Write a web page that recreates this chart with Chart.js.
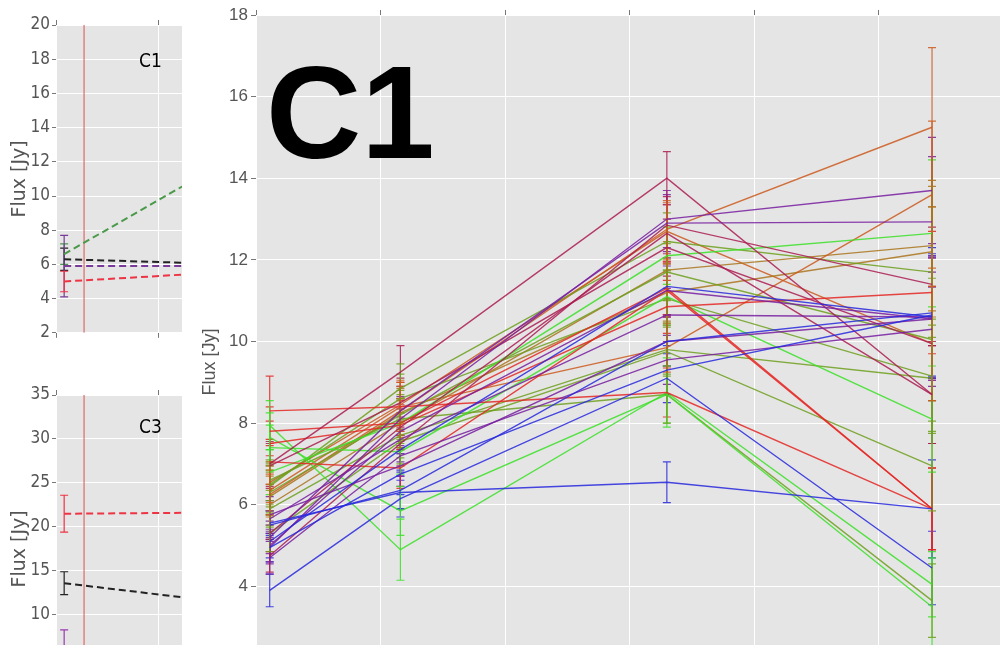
<!DOCTYPE html>
<html lang="en">
<head>
<meta charset="UTF-8" />
<title>Flux C1</title>
<script src="https://cdn.jsdelivr.net/npm/chart.js"></script>
<style>
	html, body { margin: 0; padding: 0; background: #fff; width: 1000px; height: 645px; overflow: hidden; }
	.box { position: absolute; overflow: hidden; }
</style>
</head>
<body>
<div class="box" style="left:0;top:0;width:190px;height:345px"><canvas id="smallC1" width="182" height="345"></canvas></div>
<div class="box" style="left:0;top:380px;width:190px;height:265px"><canvas id="smallC3" width="182" height="335"></canvas></div>
<div class="box" style="left:195px;top:0;width:805px;height:645px"><canvas id="main" width="808" height="722"></canvas></div>

<script>
// ---- main panel data: flux at four bands, one row per source ----
var xs = [0.11, 1.16, 3.30, 5.43];

var red = "rgba(228,40,36,0.85)";
var blue = "rgba(40,40,222,0.85)";
var green = "rgba(60,225,40,0.85)";
var purple = "rgba(120,30,160,0.85)";
var crimson = "rgba(172,28,82,0.85)";
var orange = "rgba(204,90,30,0.85)";
var olive = "rgba(110,160,30,0.85)";
var brown = "rgba(170,118,30,0.85)";

var fluxes = [
	[5.55, 6.30, 6.55, 5.90],
	[3.90, 6.15, 9.10, 4.45],
	[4.95, 6.75, 9.30, 10.65],
	[5.10, 7.35, 11.35, 10.60],
	[5.50, 6.35, 10.00, 10.70],
	[4.70, 7.20, 9.55, 10.30],
	[5.75, 6.95, 10.00, 10.55],
	[5.65, 7.60, 10.65, 10.60],
	[4.95, 8.10, 13.00, 13.70],
	[5.20, 8.30, 12.90, 12.93],
	[5.00, 7.80, 11.25, 10.55],
	[7.00, 9.25, 14.00, 8.70],
	[4.75, 7.50, 12.85, 11.40],
	[6.95, 8.50, 12.30, 9.95],
	[5.30, 7.90, 12.65, 8.70],
	[8.30, 8.40, 8.75, 5.90],
	[7.80, 8.00, 11.30, 5.90],
	[7.50, 7.95, 10.85, 11.20],
	[7.05, 6.90, 11.25, 5.90],
	[7.95, 4.90, 8.75, 4.05],
	[7.65, 5.85, 8.70, 3.50],
	[7.40, 7.30, 11.10, 8.10],
	[5.30, 7.55, 9.75, 6.95],
	[6.80, 8.00, 12.10, 12.65],
	[6.45, 8.85, 12.45, 11.70],
	[6.30, 8.20, 11.70, 10.05],
	[5.90, 7.70, 9.80, 9.10],
	[6.60, 8.10, 8.70, 3.65],
	[6.50, 8.60, 11.05, 9.15],
	[6.25, 8.30, 12.75, 15.25],
	[6.35, 8.40, 9.85, 13.60],
	[6.00, 8.00, 11.75, 12.35],
	[6.20, 8.25, 11.20, 12.20],
	[6.55, 8.45, 12.70, 9.95],
];

var fluxErrors = [
	[0.30, 0.40, 0.50, 1.20],
	[0.40, 0.45, 0.60, 0.90],
	[0.35, 0.50, 0.60, 1.50],
	[0.40, 0.50, 0.70, 1.50],
	[0.35, 0.45, 0.60, 1.60],
	[0.40, 0.50, 0.60, 1.40],
	[0.45, 0.50, 0.60, 1.50],
	[0.45, 0.55, 0.65, 1.50],
	[0.40, 0.55, 0.70, 1.30],
	[0.40, 0.60, 0.70, 1.60],
	[0.40, 0.55, 0.60, 1.50],
	[0.55, 0.65, 0.65, 1.20],
	[0.40, 0.55, 0.70, 1.40],
	[0.55, 0.60, 0.70, 1.40],
	[0.45, 0.55, 0.70, 1.20],
	[0.85, 0.60, 0.60, 1.00],
	[0.60, 0.60, 0.65, 1.00],
	[0.55, 0.60, 0.65, 1.50],
	[0.55, 0.50, 0.65, 1.00],
	[0.60, 0.75, 0.85, 0.80],
	[0.60, 0.60, 0.70, 1.20],
	[0.55, 0.55, 0.65, 1.30],
	[0.45, 0.55, 0.60, 1.10],
	[0.55, 0.60, 0.70, 1.80],
	[0.50, 0.60, 0.70, 1.60],
	[0.50, 0.60, 0.70, 1.50],
	[0.45, 0.55, 0.60, 1.30],
	[0.50, 0.60, 0.70, 0.90],
	[0.50, 0.60, 0.65, 1.40],
	[0.50, 0.60, 0.70, 1.95],
	[0.50, 0.60, 0.60, 1.80],
	[0.50, 0.60, 0.70, 1.60],
	[0.50, 0.60, 0.70, 1.60],
	[0.50, 0.60, 0.70, 1.40],
];

var lineColors = [
	blue, blue, blue, blue, blue,
	purple, purple, purple, purple, purple, purple,
	crimson, crimson, crimson, crimson,
	red, red, red, red,
	green, green, green, olive, green,
	olive, olive, olive, olive, olive,
	orange, orange, brown, brown, orange,
];

var mainTicks = [4, 6, 8, 10, 12, 14, 16, 18];

// ---- small panels: dashed fits starting at the first band ----
var smallX = [0.08, 1.235];
var redLineX = 0.275;

var c1Fits = [
	[6.6, 10.55],
	[6.3, 6.1],
	[5.9, 5.9],
	[5.0, 5.4],
];
var c1FitErrors = [0.6, 0.65, 1.8, 0.6];
var c1FitColors = ["#4a9a4a", "#222222", "#7a3a9a", "#ee3344"];

var c3Fits = [
	[21.5, 21.6],
	[13.6, 12.0],
	[4.8, 4.8],
];
var c3FitErrors = [2.1, 1.3, 3.5];
var c3FitColors = ["#ee3344", "#222222", "#9a3ab0"];

// ---- plugins ----
var panelBackground = {
	id: "panelBackground",
	beforeDraw: function (chart) {
		var a = chart.chartArea, ctx = chart.ctx;
		ctx.save();
		ctx.fillStyle = "#e5e5e5";
		ctx.fillRect(a.left, a.top, a.right - a.left, a.bottom - a.top);
		ctx.restore();
	},
};

var errorBars = {
	id: "errorBars",
	beforeDatasetsDraw: function (chart) {
		var ctx = chart.ctx, ys = chart.scales.y, a = chart.chartArea;
		ctx.save();
		ctx.beginPath();
		ctx.rect(a.left, a.top, a.right - a.left, a.bottom - a.top);
		ctx.clip();
		chart.data.datasets.forEach(function (ds, i) {
			if (!ds.errors) return;
			var meta = chart.getDatasetMeta(i);
			ctx.strokeStyle = ds.borderColor;
			ctx.lineWidth = 1.2;
			meta.data.forEach(function (pt, j) {
				var e = ds.errors[j];
				if (!e) return;
				var v = ds.data[j].y;
				var top = ys.getPixelForValue(v + e);
				var bot = ys.getPixelForValue(v - e);
				ctx.beginPath();
				ctx.moveTo(pt.x, top); ctx.lineTo(pt.x, bot);
				ctx.moveTo(pt.x - 4, top); ctx.lineTo(pt.x + 4, top);
				ctx.moveTo(pt.x - 4, bot); ctx.lineTo(pt.x + 4, bot);
				ctx.stroke();
			});
		});
		ctx.restore();
	},
};

var panelLabel = {
	id: "panelLabel",
	afterDraw: function (chart, args, opts) {
		if (!opts.text) return;
		var ctx = chart.ctx;
		ctx.save();
		ctx.fillStyle = "#000";
		ctx.font = opts.font;
		ctx.textBaseline = "alphabetic";
		ctx.fillText(opts.text, opts.x, opts.y);
		ctx.restore();
	},
};

// ---- main chart ----
var mainSets = fluxes.map(function (row, i) {
	return {
		data: row.map(function (v, j) { return { x: xs[j], y: v }; }),
		errors: fluxErrors[i],
		borderColor: lineColors[i],
		borderWidth: 1.4,
		pointRadius: 0,
		tension: 0,
	};
});

new Chart(document.getElementById("main"), {
	type: "line",
	data: { datasets: mainSets },
	plugins: [panelBackground, errorBars, panelLabel],
	options: {
		responsive: false,
		animation: false,
		layout: { padding: 0 },
		scales: {
			x: {
				type: "linear",
				position: "top",
				min: 0,
				max: 6,
				ticks: { display: false, stepSize: 1 },
				grid: { color: "#ffffff", lineWidth: 1, tickColor: "#777", tickLength: 5 },
				border: { display: false },
				afterFit: function (s) { s.height = 15; },
			},
			y: {
				min: 1,
				max: 18,
				afterBuildTicks: function (s) { s.ticks = mainTicks.map(function (v) { return { value: v }; }); },
				ticks: { color: "#555", font: { size: 17, family: "Liberation Sans" }, padding: 3 },
				grid: { color: "#ffffff", lineWidth: 1, tickColor: "#777", tickLength: 5 },
				border: { display: false },
				title: { display: true, text: "Flux [Jy]", color: "#555", font: { size: 18, family: "Liberation Sans" }, padding: { top: 4, bottom: 0 } },
				afterFit: function (s) { s.width = 61; },
			},
		},
		plugins: {
			legend: { display: false },
			tooltip: { enabled: false },
			panelLabel: { text: "C1", x: 71, y: 158, font: 'bold 132px "Liberation Sans"' },
		},
	},
});

// ---- small panels ----
var narrow = '"DejaVu Sans Condensed", "Liberation Sans", sans-serif';

function smallPanel(id, fits, fitErrors, fitColors, yMin, yMax, step, topPad, label) {
	var sets = fits.map(function (f, i) {
		return {
			data: [{ x: smallX[0], y: f[0] }, { x: smallX[1], y: f[1] }],
			errors: [fitErrors[i], 0],
			borderColor: fitColors[i],
			borderWidth: 2,
			borderDash: [7, 4],
			pointRadius: 0,
		};
	});
	sets.push({
		data: [{ x: redLineX, y: yMin }, { x: redLineX, y: yMax }],
		borderColor: "#d9534f",
		borderWidth: 1,
		pointRadius: 0,
	});
	return new Chart(document.getElementById(id), {
		type: "line",
		data: { datasets: sets },
		plugins: [panelBackground, errorBars, panelLabel],
		options: {
			responsive: false,
			animation: false,
			layout: { padding: 0 },
			scales: {
				x: {
					type: "linear",
					position: "bottom",
					min: 0,
					max: smallX[1],
					ticks: { display: false, stepSize: 1, includeBounds: false },
					grid: { color: "#ffffff", tickColor: "#777", tickLength: 5 },
					border: { display: false },
					afterFit: function (s) { s.height = 12; },
				},
				x2: {
					type: "linear",
					position: "top",
					min: 0,
					max: smallX[1],
					ticks: { display: false, stepSize: 1, includeBounds: false },
					grid: { drawOnChartArea: false, tickColor: "#777", tickLength: 5 },
					border: { display: false },
					afterFit: function (s) { s.height = topPad; },
				},
				y: {
					min: yMin,
					max: yMax,
					ticks: { stepSize: step, color: "#555", font: { size: 17, family: narrow }, padding: 2 },
					grid: { color: "#ffffff", tickColor: "#777", tickLength: 4 },
					border: { display: false },
					title: { display: true, text: "Flux [Jy]", color: "#555", font: { size: 19, family: "DejaVu Sans" }, padding: { top: 9, bottom: 0 } },
					afterFit: function (s) { s.width = 56; },
				},
			},
			plugins: {
				legend: { display: false },
				tooltip: { enabled: false },
				panelLabel: label,
			},
		},
	});
}

smallPanel("smallC1", c1Fits, c1FitErrors, c1FitColors, 2, 20, 2, 25,
	{ text: "C1", x: 139, y: 67, font: "19px " + narrow });
smallPanel("smallC3", c3Fits, c3FitErrors, c3FitColors, 0, 35, 5, 15,
	{ text: "C3", x: 139, y: 53, font: "19px " + narrow });
</script>
</body>
</html>
